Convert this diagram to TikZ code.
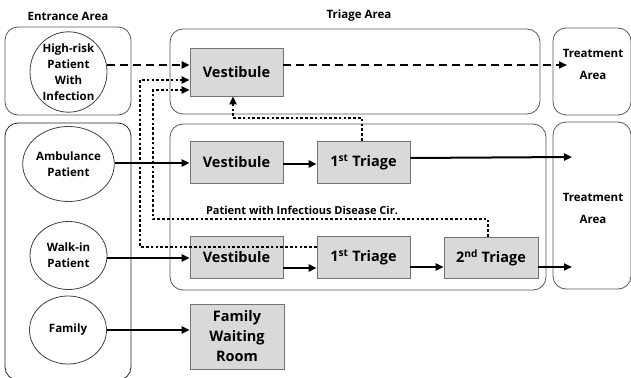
\documentclass[tikz,border=0pt]{standalone}
\usepackage{fontspec}
\setmainfont{Open Sans}
\usetikzlibrary{arrows.meta,shapes.geometric,calc}
\begin{document}
\begin{tikzpicture}[x=1pt,y=-1pt,
  area/.style={draw=black!65, line width=0.8pt, rounded corners=13pt},
  areab/.style={draw=black!85, line width=0.8pt, rounded corners=13pt},
  room/.style={draw=black!55, line width=0.8pt, fill=black!15, minimum width=93pt, minimum height=42pt, inner sep=0pt, font=\bfseries\fontsize{14.5}{17}\selectfont},
  pat/.style={ellipse, draw=black!75, line width=0.8pt, inner sep=0pt, minimum width=77pt, align=center, font=\bfseries\fontsize{11.5}{16}\selectfont},
  hdr/.style={font=\bfseries\fontsize{11.5}{12}\selectfont, inner sep=0pt},
  lbl/.style={font=\bfseries\fontsize{11.5}{22}\selectfont, align=center, inner sep=0pt},
  flow/.style={-{Triangle[length=8pt,width=7pt]}, line width=2pt},
  dflow/.style={-{Triangle[length=8pt,width=7pt]}, line width=2.4pt, dash pattern=on 8pt off 5pt},
  dotflow/.style={line width=2.6pt, dash pattern=on 2.6pt off 2.2pt},
  dotarrow/.style={dotflow, -{Triangle[length=8pt,width=7pt]}}
]
\useasboundingbox (0,0) rectangle (631,377);
% headers
\node[hdr] (hEnt) at (68,16) {Entrance Area};
\node[hdr] (hTri) at (359,16) {Triage Area};
% area boxes
\draw[area] (5,27) rectangle (131,115);
\draw[areab] (5,123) rectangle (131,380);
\draw[area] (170,29) rectangle (540,114);
\draw[area] (170,124) rectangle (546,290);
\draw[area] (553,28) rectangle (631,115);
\draw[area] (553,122) rectangle (631,289);
\node[lbl] (tr1) at (593,64) {Treatment\\Area};
\node[lbl] (tr2) at (593,208) {Treatment\\Area};
% patients
\node[pat, minimum height=66pt] (hr) at (68.5,72) {High-risk\\Patient\\With\\Infection};
\node[pat, minimum height=75pt] (amb) at (68.5,164) {Ambulance\\Patient};
\node[pat, minimum height=68pt] (walk) at (68.5,255.5) {Walk-in\\Patient};
\node[pat, minimum height=68pt] (fam) at (68,330) {Family};
% rooms
\node[room, minimum height=48pt] (v1) at (236.5,72) {Vestibule};
\node[room] (v2) at (236.5,162) {Vestibule};
\node[room] (t2) at (363.5,162) {1\textsuperscript{st} Triage};
\node[room] (v3) at (236.5,257) {Vestibule};
\node[room] (t3) at (363.5,257) {1\textsuperscript{st} Triage};
\node[room, minimum width=94pt, minimum height=41pt] (s3) at (491,257.5) {2\textsuperscript{nd} Triage};
\node[room, minimum width=94pt, minimum height=65pt, align=center, font=\bfseries\fontsize{14.5}{20}\selectfont] (fw) at (237,336.5) {Family\\Waiting\\Room};
\node[font=\bfseries\fontsize{11}{12}\selectfont, inner sep=0pt] (cir) at (302,210) {Patient with Infectious Disease Cir.};
% free ends
\coordinate (e1) at (567,65);
\coordinate (e2) at (572,157);
\coordinate (e3) at (572,267);
% dashed
\draw[dflow] (hr.east |- 0,65) -- (v1.west |- 0,65);
\draw[dflow] (v1.east |- 0,65) -- (e1);
% solid
\draw[flow] (amb.east |- 0,163) -- (v2.west |- 0,163);
\draw[flow] (v2.east |- 0,164) -- (t2.west |- 0,164);
\draw[flow] (t2.east |- 0,158) -- (e2);
\draw[flow] (walk.east |- 0,258) -- (v3.west |- 0,258);
\draw[flow] (v3.east |- 0,268) -- (t3.west |- 0,268);
\draw[flow] (t3.east |- 0,267) -- (s3.west |- 0,267);
\draw[flow] (s3.east |- 0,267) -- (e3);
\draw[flow] (fam.east |- 0,330) -- (fw.west |- 0,330);
% dotted
\draw[dotarrow] (t3.west |- 0,247) -- (140,247) -- (140,80) -- (v1.west |- 0,80);
\draw[dotarrow] (s3.north -| 488,0) -- (488,219) -- (153,219) -- (153,90) -- (v1.west |- 0,90);
\draw[dotarrow] (t2.north -| 362,0) -- (362,118) -- (233,118) -- (v1.south -| 233,0);
\end{tikzpicture}
\end{document}
